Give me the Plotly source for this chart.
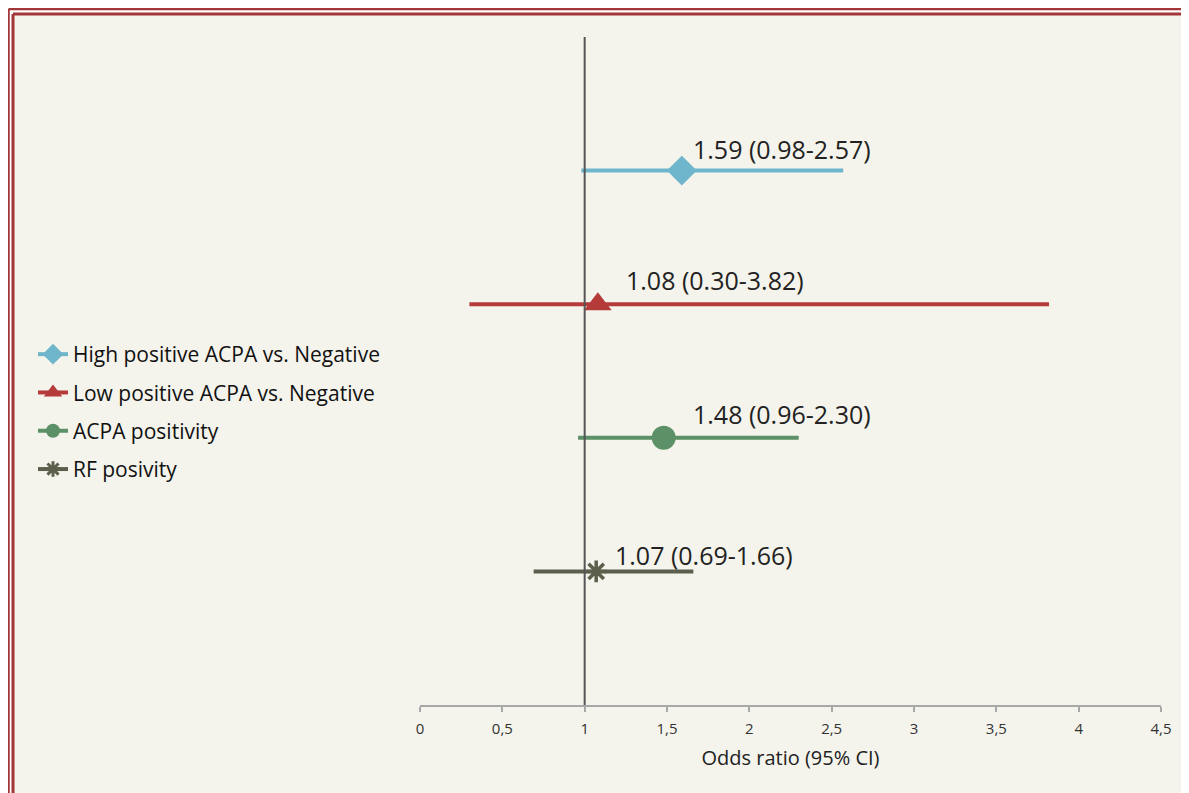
import plotly.graph_objects as go

# ---- data ----
series_names = ["High positive ACPA vs. Negative", "Low positive ACPA vs. Negative",
                "ACPA positivity", "RF posivity"]
odds_ratio = [1.59, 1.08, 1.48, 1.07]
ci_low = [0.98, 0.30, 0.96, 0.69]
ci_high = [2.57, 3.82, 2.30, 1.66]
row_pos = [4, 3, 2, 1]
tick_vals = [0, 0.5, 1, 1.5, 2, 2.5, 3, 3.5, 4, 4.5]
tick_text = ["0", "0,5", "1", "1,5", "2", "2,5", "3", "3,5", "4", "4,5"]

# ---- styles ----
colors = ["#6fb5cb", "#b53b3b", "#5c9067", "#5b5f4c"]
symbols = ["diamond", "triangle-up", "circle", "asterisk-open"]
msizes = [23, 24, 24, 18]
legend_msizes = [16, 16, 14, 13]
lbl_xshift = [9, 26, 27, 17]
lbl_yshift = [22, 24, 24, 16]

# figure is placed at (8, 8) in the page by the default body margin
W, H = 1189, 785
ML, MR, MT, MB = 412, 36, 29, 88
PW, PH = W - ML - MR, H - MT - MB
FONT = "Open Sans"


def px(x):
    return (x - ML) / PW


def py(y):
    return 1 - (y - MT) / PH


fig = go.Figure()
for i in range(4):
    sz = [0, msizes[i], 0]
    mk = dict(symbol=symbols[i], size=sz, color=colors[i], opacity=1)
    lmk = dict(symbol=symbols[i], size=legend_msizes[i], color=colors[i], opacity=1)
    if symbols[i] == "asterisk-open":
        mk["line"] = dict(color=colors[i], width=3.5)
        lmk["line"] = dict(color=colors[i], width=3)
    else:
        mk["line"] = dict(width=0)
        lmk["line"] = dict(width=0)
    fig.add_trace(go.Scatter(
        x=[ci_low[i], odds_ratio[i], ci_high[i]],
        y=[row_pos[i]] * 3,
        mode="lines+markers",
        name=series_names[i],
        legendgroup=str(i),
        showlegend=False,
        line=dict(color=colors[i], width=4),
        marker=mk,
        hoverinfo="skip",
    ))
    # legend entry (same series, legend styling)
    fig.add_trace(go.Scatter(
        x=[None], y=[None],
        mode="lines+markers",
        name=series_names[i],
        legendgroup=str(i),
        showlegend=True,
        line=dict(color=colors[i], width=4),
        marker=lmk,
        hoverinfo="skip",
    ))
    fig.add_annotation(
        x=odds_ratio[i], y=row_pos[i], xref="x", yref="y",
        text=f"{odds_ratio[i]:.2f} ({ci_low[i]:.2f}-{ci_high[i]:.2f})",
        showarrow=False, xanchor="left", yanchor="middle",
        xshift=lbl_xshift[i], yshift=lbl_yshift[i],
        font=dict(family=FONT, size=25, color="#222222"),
    )

shapes = []
# reference line at OR = 1
shapes.append(dict(type="line", xref="x", yref="y", x0=1, x1=1, y0=0, y1=5,
                   line=dict(color="#555555", width=2), layer="above"))
# white gap between the two frame lines
shapes.append(dict(type="rect", xref="paper", yref="paper", x0=px(-20), x1=px(4),
                   y0=py(H + 20), y1=py(-20), fillcolor="white", line=dict(width=0), layer="below"))
shapes.append(dict(type="rect", xref="paper", yref="paper", x0=px(-20), x1=px(W + 20),
                   y0=py(5), y1=py(-20), fillcolor="white", line=dict(width=0), layer="below"))
# double red border (left & top)
red = "#a33638"
for off_x, off_y, lw in ((0.5, 1.0, 2.5), (5.0, 6.0, 3)):
    shapes.append(dict(type="line", xref="paper", yref="paper",
                       x0=px(off_x), x1=px(off_x), y0=py(off_y), y1=py(H + 20),
                       line=dict(color=red, width=lw), layer="below"))
    shapes.append(dict(type="line", xref="paper", yref="paper",
                       x0=px(off_x), x1=px(W + 20), y0=py(off_y), y1=py(off_y),
                       line=dict(color=red, width=lw), layer="below"))

fig.update_layout(
    width=W, height=H,
    margin=dict(l=ML, r=MR, t=MT, b=MB, pad=0),
    paper_bgcolor="#f4f4ec",
    plot_bgcolor="#f4f4ec",
    font=dict(family=FONT, color="#222222"),
    showlegend=True,
    legend=dict(
        xref="container", yref="container",
        x=25 / W, y=1 - 326 / H, xanchor="left", yanchor="top",
        bgcolor="rgba(0,0,0,0)",
        font=dict(family=FONT, size=21, color="#111111"),
        itemsizing="trace",
        tracegroupgap=8,
        traceorder="grouped",
        itemwidth=30,
    ),
    xaxis=dict(
        range=[0, 4.5], tickvals=tick_vals, ticktext=tick_text,
        showgrid=False, zeroline=False,
        showline=True, linecolor="#a8a8a8", linewidth=2,
        ticks="outside", ticklen=5, tickwidth=2, tickcolor="#a8a8a8",
        ticklabelstandoff=4,
        tickfont=dict(family=FONT, size=15, color="#333333"),
        title=dict(text="Odds ratio (95% CI)", font=dict(family=FONT, size=20, color="#222222"),
                   standoff=14),
        fixedrange=True,
    ),
    yaxis=dict(range=[0, 5], visible=False, fixedrange=True),
    shapes=shapes,
)

fig.write_html("out.html")
